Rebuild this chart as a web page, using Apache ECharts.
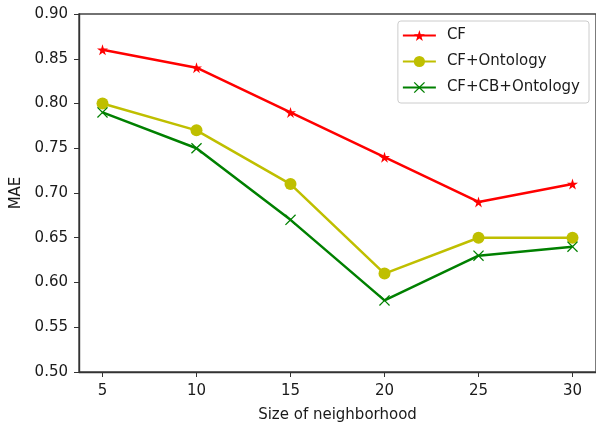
<!DOCTYPE html>
<html><head><meta charset="utf-8">
<script src="https://cdn.jsdelivr.net/npm/echarts@6/dist/echarts.min.js"></script>
<style>html,body{margin:0;padding:0;background:#fff}#c{width:596px;height:426px}</style>
</head><body><div id="c"></div>
<script>
var sizes = [5, 10, 15, 20, 25, 30];
var cf = [0.86, 0.84, 0.79, 0.74, 0.69, 0.71];
var cfOnt = [0.80, 0.77, 0.71, 0.61, 0.65, 0.65];
var cfCbOnt = [0.79, 0.75, 0.67, 0.58, 0.63, 0.64];
var xTicks = [5, 10, 15, 20, 25, 30];
var yTicks = [0.50, 0.55, 0.60, 0.65, 0.70, 0.75, 0.80, 0.85, 0.90];

var star = 'path://M50,0L61.8,36.2L100,36.2L69.1,58.8L80.9,95.1L50,72.6L19.1,95.1L30.9,58.8L0,36.2L38.2,36.2Z';
var cross = 'path://M0,8L8,0L50,42L92,0L100,8L58,50L100,92L92,100L50,58L8,100L0,92L42,50Z';
function pairs(v){return sizes.map(function(s,i){return [s,v[i]];});}
var font = 'DejaVu Sans';
var txt = '#1a1a1a';
var chart = echarts.init(document.getElementById('c'));
chart.setOption({
  animation:false,
  textStyle:{fontFamily:font},
  grid:{left:79,top:14,right:0,bottom:54,show:true,borderColor:'#444',borderWidth:1.4,
        containLabel:false,outerBoundsMode:'none'},
  legend:{
    right:7, top:21, orient:'vertical',
    itemWidth:33, itemHeight:14, itemGap:11,
    borderColor:'#ccc', borderWidth:1, borderRadius:3, padding:[7,9,8,4],
    textStyle:{fontFamily:font,fontSize:15,color:txt,padding:[0,0,0,6]},
    data:['CF','CF+Ontology','CF+CB+Ontology']
  },
  xAxis:{
    type:'value', min:3.75, max:31.25,
    name:'Size of neighborhood', nameLocation:'middle', nameGap:36,
    nameTextStyle:{fontFamily:font,fontSize:15,color:txt},
    axisLine:{show:true,lineStyle:{color:'#333',width:1.4}},
    axisTick:{show:true,length:5,lineStyle:{color:'#333'},customValues:xTicks},
    axisLabel:{fontFamily:font,fontSize:15,color:txt,margin:12,customValues:xTicks},
    splitLine:{show:false}
  },
  yAxis:{
    type:'value', min:0.5, max:0.9, interval:0.05,
    name:'MAE', nameLocation:'middle', nameGap:52,
    nameTextStyle:{fontFamily:font,fontSize:15,color:txt},
    axisLine:{show:true,lineStyle:{color:'#333',width:1.4}},
    axisTick:{show:true,length:5,lineStyle:{color:'#333'}},
    axisLabel:{fontFamily:font,fontSize:15,color:txt,margin:11,formatter:function(v){return v.toFixed(2);}},
    splitLine:{show:false}
  },
  series:[
    {name:'CF',type:'line',data:pairs(cf),symbol:star,symbolSize:11,
     lineStyle:{color:'#ff0000',width:2.5},itemStyle:{color:'#ff0000'}},
    {name:'CF+Ontology',type:'line',data:pairs(cfOnt),symbol:'circle',symbolSize:12,
     lineStyle:{color:'#bfbf00',width:2.5},itemStyle:{color:'#bfbf00'}},
    {name:'CF+CB+Ontology',type:'line',data:pairs(cfCbOnt),symbol:cross,symbolSize:11,
     lineStyle:{color:'#008000',width:2.5},itemStyle:{color:'#008000'}}
  ]
});
</script></body></html>
